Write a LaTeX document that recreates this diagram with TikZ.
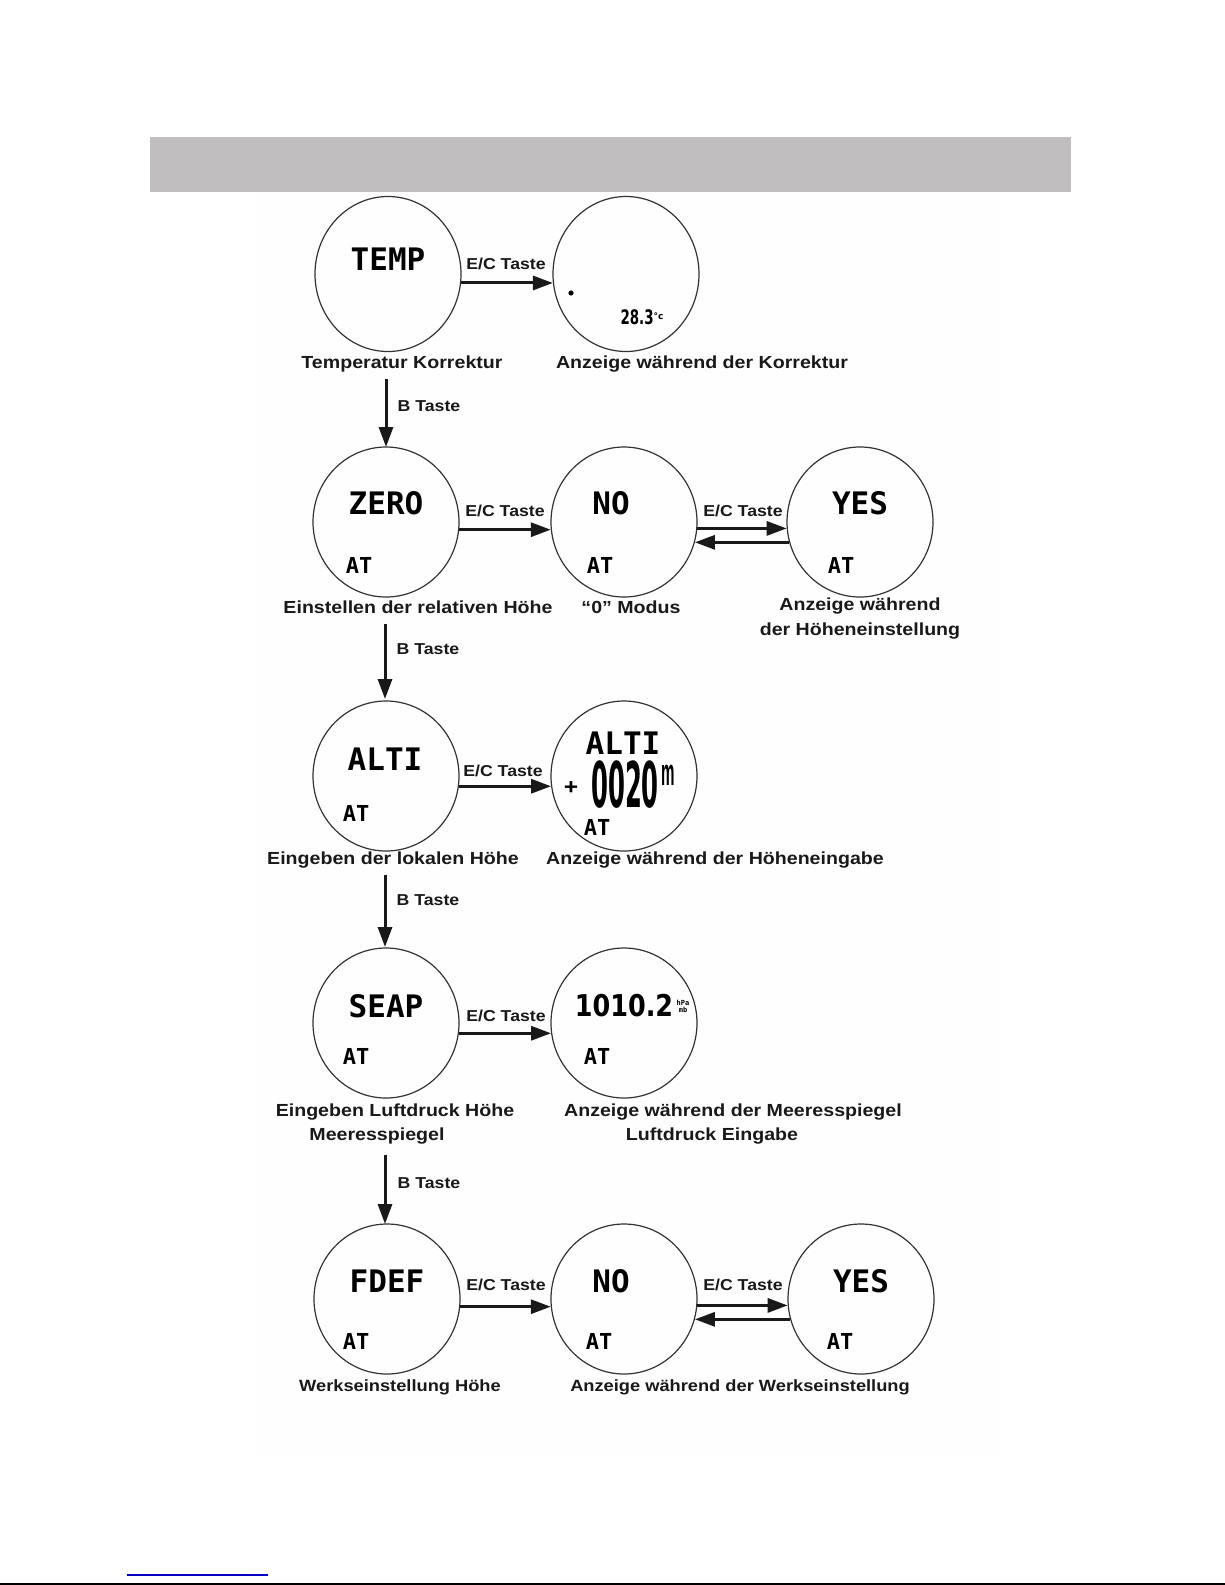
\documentclass[tikz,border=0pt]{standalone}
\usepackage{fontspec}
\usetikzlibrary{shapes.geometric,arrows.meta,calc}
\newfontfamily\lab{Liberation Sans}[FakeStretch=1.12]
\newfontfamily\lcd{DejaVu Sans Mono}
\newfontfamily\lcdnum{DejaVu Sans}
\definecolor{hdrgray}{RGB}{192,190,191}
\definecolor{bgpaper}{RGB}{254,254,254}
\definecolor{linkblue}{RGB}{0,0,200}
\tikzset{
  disp/.style={ellipse, draw=black!80, line width=1.2pt, minimum width=146pt, minimum height=150pt, inner sep=0pt},
  arr/.style={-{Triangle[length=20pt,width=14pt]}, line width=3pt, draw=black!90},
  lbl/.style={font=\lab\bfseries\fontsize{17.5}{24.3}\selectfont, align=center, inner sep=0pt, text=black!90},
  lbls/.style={font=\lab\bfseries\fontsize{16.3}{20}\selectfont, align=center, inner sep=0pt, text=black!90},
  key/.style={font=\lab\bfseries\fontsize{15.8}{18}\selectfont, inner sep=0pt, text=black!90},
  lcdbig/.style={font=\lcd\bfseries\fontsize{31}{31}\selectfont, inner sep=0pt},
  lcdsm/.style={font=\lcd\bfseries\fontsize{22}{22}\selectfont, inner sep=0pt},
  lcdnumst/.style={font=\lcdnum\bfseries\fontsize{30}{30}\selectfont, inner sep=0pt}
}
\begin{document}
\begin{tikzpicture}[x=1pt,y=-1pt]
\useasboundingbox (0,0) rectangle (1225,1585);
% paper
\fill[bgpaper] (258,192) rectangle (1003,1453);
\fill[hdrgray] (150,137) rectangle (1071,192);
\draw[linkblue, line width=1.5pt] (127,1575) -- (268,1575);
\draw[black, line width=2pt] (0,1583.5) -- (1225,1583.5);

% ---------- row 1 ----------
\node[disp, minimum height=155pt] (c1) at (388,274) {};
\node[disp, minimum height=155pt] (c2) at (626,274) {};
\node[lcdbig] (t1) at ($(c1)+(0,-15)$) {TEMP};
\fill ($(c2)+(-55,19)$) circle (2.6pt);
\node[inner sep=0pt, font=\lcdnum\bfseries\fontsize{20}{20}\selectfont] (t2) at ($(c2)+(16,43)$) {\scalebox{0.67}[1]{28.3}\raisebox{5pt}{\fontsize{9}{9}\selectfont °c}};
\draw[arr] (c1.-7) -- (c2.187);
\node[key] (k1) at (506,264) {E/C Taste};
\node[lbl] (l1) at (402,364) {Temperatur Korrektur};
\node[lbl] (l2) at (702,364) {Anzeige während der Korrektur};
\coordinate (b1) at (386,379);
\draw[arr] (b1) -- (b1 |- 0,447);
\node[key] (bk1) at (429,406) {B Taste};

% ---------- row 2 ----------
\node[disp] (c3) at (386,522) {};
\node[disp] (c4) at (624,522) {};
\node[disp] (c5) at (860,522) {};
\node[lcdbig] (t3) at ($(c3)+(0,-19)$) {ZERO};
\node[lcdsm] (a3) at ($(c3)+(-27,43)$) {AT};
\node[lcdbig] (t4) at ($(c4)+(-13,-19)$) {NO};
\node[lcdsm] (a4) at ($(c4)+(-24,43)$) {AT};
\node[lcdbig] (t5) at ($(c5)+(0,-19)$) {YES};
\node[lcdsm] (a5) at ($(c5)+(-19,43)$) {AT};
\draw[arr] (c3.-6) -- (c4.186);
\draw[arr] (c4.-5) -- (c5.185);
\draw[arr] (c5.196) -- (c4.-16);
\node[key] (k2) at (505,511) {E/C Taste};
\node[key] (k3) at (743,511) {E/C Taste};
\node[lbl] (l3) at (418,607) {Einstellen der relativen Höhe};
\node[lbl] (l4) at (631,607) {“0” Modus};
\node[lbl, anchor=north] (l5) at (860,598) {Anzeige während\\der Höheneinstellung};
\coordinate (b2) at (385,624);
\draw[arr] (b2) -- (b2 |- 0,699);
\node[key] (bk2) at (428,649) {B Taste};

% ---------- row 3 ----------
\node[disp] (c6) at (386,776) {};
\node[disp] (c7) at (624,776) {};
\node[lcdbig] (t6) at ($(c6)+(-1,-17)$) {ALTI};
\node[lcdsm] (a6) at ($(c6)+(-30,37)$) {AT};
\node[lcdbig] (t7) at ($(c7)+(-1,-33)$) {ALTI};
\node[inner sep=0pt, font=\lab\bfseries\fontsize{22}{22}\selectfont] (p7) at ($(c7)+(-53,12)$) {+};
\node[lcdnumst] (d7) at ($(c7)+(1,9)$) {\scalebox{0.81}[2.1]{0020}};
\node[inner sep=0pt, font=\lab\bfseries\fontsize{18}{18}\selectfont] (m7) at ($(c7)+(44,-1)$) {\scalebox{0.75}[2.1]{m}};
\node[lcdsm] (a7) at ($(c7)+(-27,51)$) {AT};
\draw[arr] (c6.-8) -- (c7.188);
\node[key] (k4) at (503,771) {E/C Taste};
\node[lbl] (l6) at (393,860) {Eingeben der lokalen Höhe};
\node[lbl] (l7) at (715,860) {Anzeige während der Höheneingabe};
\coordinate (b3) at (385,875);
\draw[arr] (b3) -- (b3 |- 0,947);
\node[key] (bk3) at (428,900) {B Taste};

% ---------- row 4 ----------
\node[disp] (c8) at (386,1023) {};
\node[disp] (c9) at (624,1023) {};
\node[lcdbig] (t8) at ($(c8)+(0,-17)$) {SEAP};
\node[lcdsm] (a8) at ($(c8)+(-30,33)$) {AT};
\node[lcdnumst] (t9) at ($(c9)+(0,-17)$) {\scalebox{0.85}[1]{1010.2}};
\node[inner sep=0pt, font=\lcd\bfseries\fontsize{7}{7}\selectfont, align=center] (u9) at ($(c9)+(59,-17)$) {hPa\\mb};
\node[lcdsm] (a9) at ($(c9)+(-27,33)$) {AT};
\draw[arr] (c8.-8) -- (c9.188);
\node[key] (k5) at (506,1016) {E/C Taste};
\node[lbl] (l8) at (395,1112) {Eingeben Luftdruck Höhe};
\node[lbl] (l8b) at (377,1136) {Meeresspiegel};
\node[lbl] (l9) at (733,1112) {Anzeige während der Meeresspiegel};
\node[lbl] (l9b) at (712,1136) {Luftdruck Eingabe};
\coordinate (b4) at (385,1155);
\draw[arr] (b4) -- (b4 |- 0,1224);
\node[key] (bk4) at (429,1183) {B Taste};

% ---------- row 5 ----------
\node[disp] (c10) at (387,1299) {};
\node[disp] (c11) at (624,1299) {};
\node[disp] (c12) at (861,1299) {};
\node[lcdbig] (t10) at ($(c10)+(0,-18)$) {FDEF};
\node[lcdsm] (a10) at ($(c10)+(-31,42)$) {AT};
\node[lcdbig] (t11) at ($(c11)+(-13,-18)$) {NO};
\node[lcdsm] (a11) at ($(c11)+(-25,42)$) {AT};
\node[lcdbig] (t12) at ($(c12)+(0,-18)$) {YES};
\node[lcdsm] (a12) at ($(c12)+(-21,42)$) {AT};
\draw[arr] (c10.-6) -- (c11.186);
\draw[arr] (c11.-5) -- (c12.185);
\draw[arr] (c12.196) -- (c11.-16);
\node[key] (k6) at (506,1285) {E/C Taste};
\node[key] (k7) at (743,1285) {E/C Taste};
\node[lbls] (l10) at (400,1387) {Werkseinstellung Höhe};
\node[lbls] (l11) at (740,1387) {Anzeige während der Werkseinstellung};
\end{tikzpicture}
\end{document}
